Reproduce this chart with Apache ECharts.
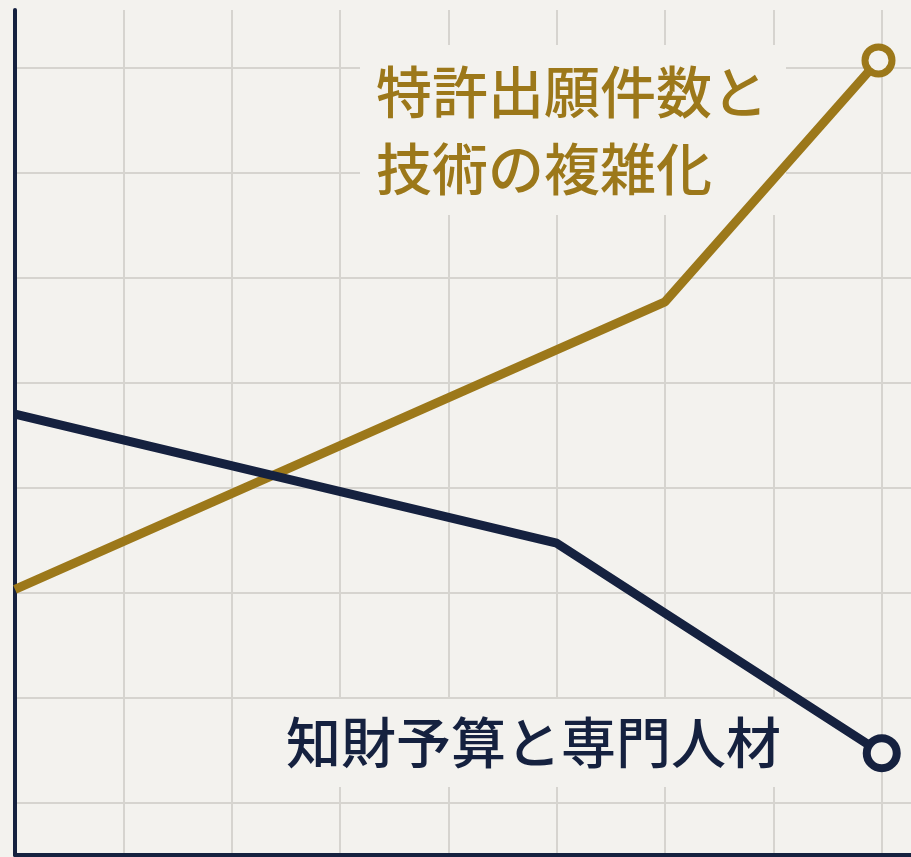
<!DOCTYPE html>
<html>
<head>
<meta charset="utf-8">
<script src="https://cdn.jsdelivr.net/npm/echarts@6/dist/echarts.min.js"></script>
<style>
    html, body{
        margin: 0;
        padding: 0;
        background-color: #f3f2ee;
    }
    #main{
        width: 911px;
        height: 857px;
    }
</style>
</head>
<body>
<div id="main"></div>
<script>
// 系列数据 (x = 时间步, y = 相对水平)
var patentX = [0, 6, 7.97]
var patentY = [2.03, 4.77, 7.07]
var budgetX = [0, 5, 8]
var budgetY = [3.7, 2.47, 0.47]

var patentName = '特許出願件数と\n技術の複雑化'
var budgetName = '知財予算と専門人材'

var bg = '#f3f2ee'
var gold = '#9c781a'
var navy = '#15213f'

function makeData(xs, ys){
    return xs.map(function(x, i){
        var last = i === xs.length - 1
        return { value: [x, ys[i]], symbol: last ? 'circle' : 'none' }
    })
}

var myChart = echarts.init(document.getElementById('main'))
myChart.setOption({
    backgroundColor: bg,
    animation: false,
    grid: {
        left: 15,
        right: 0,
        top: 10,
        bottom: 2
    },
    xAxis: {
        type: 'value',
        min: 0,
        max: 8.27,
        interval: 1,
        axisLine: { show: true, onZero: false, lineStyle: { color: navy, width: 4 } },
        axisTick: { show: false },
        axisLabel: { show: false },
        splitLine: {
            show: true,
            showMinLine: false,
            showMaxLine: false,
            lineStyle: { color: '#d6d4cf', width: 2 }
        }
    },
    yAxis: {
        type: 'value',
        min: -0.5,
        max: 7.55,
        minInterval: 1,
        maxInterval: 1,
        axisLine: { show: true, onZero: false, lineStyle: { color: navy, width: 4 } },
        axisTick: { show: false },
        axisLabel: { show: false },
        splitLine: {
            show: true,
            showMinLine: false,
            showMaxLine: false,
            lineStyle: { color: '#d6d4cf', width: 2 }
        }
    },
    // 标签 (带背景, 遮住网格线)
    graphic: [
        {
            type: 'text',
            left: 360,
            top: 45,
            z: 1,
            style: {
                text: patentName,
                fill: gold,
                font: '500 56px "Noto Sans CJK JP"',
                lineHeight: 77,
                backgroundColor: bg,
                padding: [8, 18, 8, 16]
            }
        },
        {
            type: 'text',
            left: 275,
            top: 699,
            z: 1,
            style: {
                text: budgetName,
                fill: navy,
                font: '500 55px "Noto Sans CJK JP"',
                lineHeight: 70,
                backgroundColor: bg,
                padding: [8, 10, 10, 11]
            }
        }
    ],
    series: [
        {
            name: patentName,
            type: 'line',
            z: 3,
            symbolSize: 27,
            data: makeData(patentX, patentY),
            lineStyle: { color: gold, width: 9 },
            itemStyle: { color: bg, borderColor: gold, borderWidth: 7 }
        },
        {
            name: budgetName,
            type: 'line',
            z: 3,
            symbolSize: 30,
            data: makeData(budgetX, budgetY),
            lineStyle: { color: navy, width: 9 },
            itemStyle: { color: bg, borderColor: navy, borderWidth: 8 }
        }
    ]
})
</script>
</body>
</html>
